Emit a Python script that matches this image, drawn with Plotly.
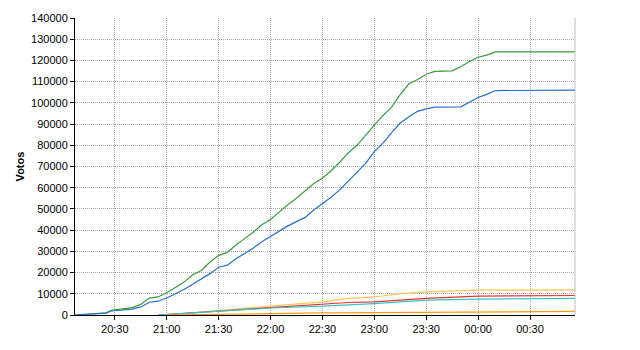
import plotly.graph_objects as go

def ts(hm):
    h, m = map(int, hm.split(":"))
    day = "2011-05-22" if h >= 12 else "2011-05-23"
    return f"{day} {h:02d}:{m:02d}:00"

green_t = ["20:07","20:15","20:25","20:28","20:35","20:40","20:45","20:50","20:55","21:00","21:05","21:10","21:15","21:20","21:25","21:30","21:35","21:40","21:45","21:50","21:55","22:00","22:05","22:10","22:15","22:20","22:25","22:30","22:35","22:40","22:45","22:50","22:55","23:00","23:05","23:10","23:15","23:20","23:25","23:30","23:35","23:40","23:45","23:50","23:55","00:00","00:05","00:10","00:56"]
green_v = [0,500,1000,2200,2800,3500,5000,8000,8500,10500,13000,15500,19000,21000,25000,28000,29500,33000,36000,39000,42500,45000,48500,52000,55000,58500,62000,64500,68000,72000,76500,80000,85000,89500,94000,98000,104000,109000,111000,113500,114800,115000,115100,117000,119500,121500,122500,124000,124000]

blue_t = ["20:07","20:15","20:25","20:28","20:35","20:40","20:45","20:50","20:55","21:00","21:05","21:10","21:15","21:20","21:25","21:30","21:35","21:40","21:45","21:50","21:55","22:00","22:05","22:10","22:15","22:20","22:25","22:30","22:35","22:40","22:45","22:50","22:55","23:00","23:05","23:10","23:15","23:20","23:25","23:30","23:35","23:50","23:55","00:00","00:05","00:10","00:56"]
blue_v = [0,500,900,1900,2300,2800,3800,6000,6500,8000,10000,12000,14500,17000,19500,22500,23500,26500,29000,31500,34500,37000,39500,42000,44000,46000,49500,52500,55500,59000,63000,67000,71500,77000,81000,86000,90500,93500,96000,97200,98000,98100,100500,102500,104000,105800,106000]

yellow_t = ["21:00","21:30","22:00","22:30","22:45","23:00","23:15","23:30","00:00","00:56"]
yellow_v = [0,2200,4200,6200,7800,8500,10100,10900,11700,11800]

red_t = ["20:55","21:30","22:00","22:30","22:45","23:00","23:30","00:00","00:56"]
red_v = [0,1800,3400,4900,5900,6200,7800,8900,9200]

cyan_t = ["20:55","21:30","22:00","22:30","22:45","23:00","23:30","00:00","00:56"]
cyan_v = [0,1700,3300,4200,4700,5400,7000,7500,7800]

orange_t = ["21:00","21:30","22:00","22:30","23:00","23:30","00:00","00:56"]
orange_v = [0,400,800,1000,1100,1300,1500,1700]

series = [
    ("Verde", green_t, green_v, "#3a9a3a"),
    ("Azul", blue_t, blue_v, "#2a6fc4"),
    ("Amarillo", yellow_t, yellow_v, "#ffc45a"),
    ("Rojo", red_t, red_v, "#f03030"),
    ("Cian", cyan_t, cyan_v, "#33c6c6"),
    ("Naranja", orange_t, orange_v, "#ff9a10"),
]

fig = go.Figure()
for name, t, v, c in series:
    fig.add_trace(go.Scatter(x=[ts(s) for s in t], y=v, mode="lines", name=name,
                             line=dict(color=c, width=1.2)))

tick_labels = ["20:30","21:00","21:30","22:00","22:30","23:00","23:30","00:00","00:30"]

fig.update_layout(
    width=640, height=350,
    margin=dict(l=75, r=65, t=15, b=35),
    paper_bgcolor="white", plot_bgcolor="white",
    showlegend=False,
    font=dict(family="Liberation Sans, Arial", size=11, color="black"),
)
fig.update_xaxes(
    type="date",
    range=[ts("20:07"), ts("00:56")],
    tickvals=[ts(s) for s in tick_labels], ticktext=tick_labels,
    showgrid=True, gridcolor="#a8a8a8", griddash="1px,1px", gridwidth=1,
    showline=True, linecolor="black", linewidth=1,
    ticks="outside", ticklen=4, tickcolor="black",
    mirror=False, zeroline=False,
)
fig.update_yaxes(
    range=[0, 140000], tickmode="linear", tick0=0, dtick=10000,
    tickformat="d",
    showgrid=True, gridcolor="#a8a8a8", griddash="1px,1px", gridwidth=1,
    showline=True, linecolor="black", linewidth=1,
    ticks="outside", ticklen=4, tickcolor="black",
    zeroline=False,
    title=dict(text="<b>Votos</b>", standoff=4, font=dict(size=11)),
)
# right border
fig.add_shape(type="line", xref="paper", yref="paper", x0=1, x1=1, y0=0, y1=1,
              line=dict(color="#c0c0c0", width=1))

fig.write_html("out.html")
